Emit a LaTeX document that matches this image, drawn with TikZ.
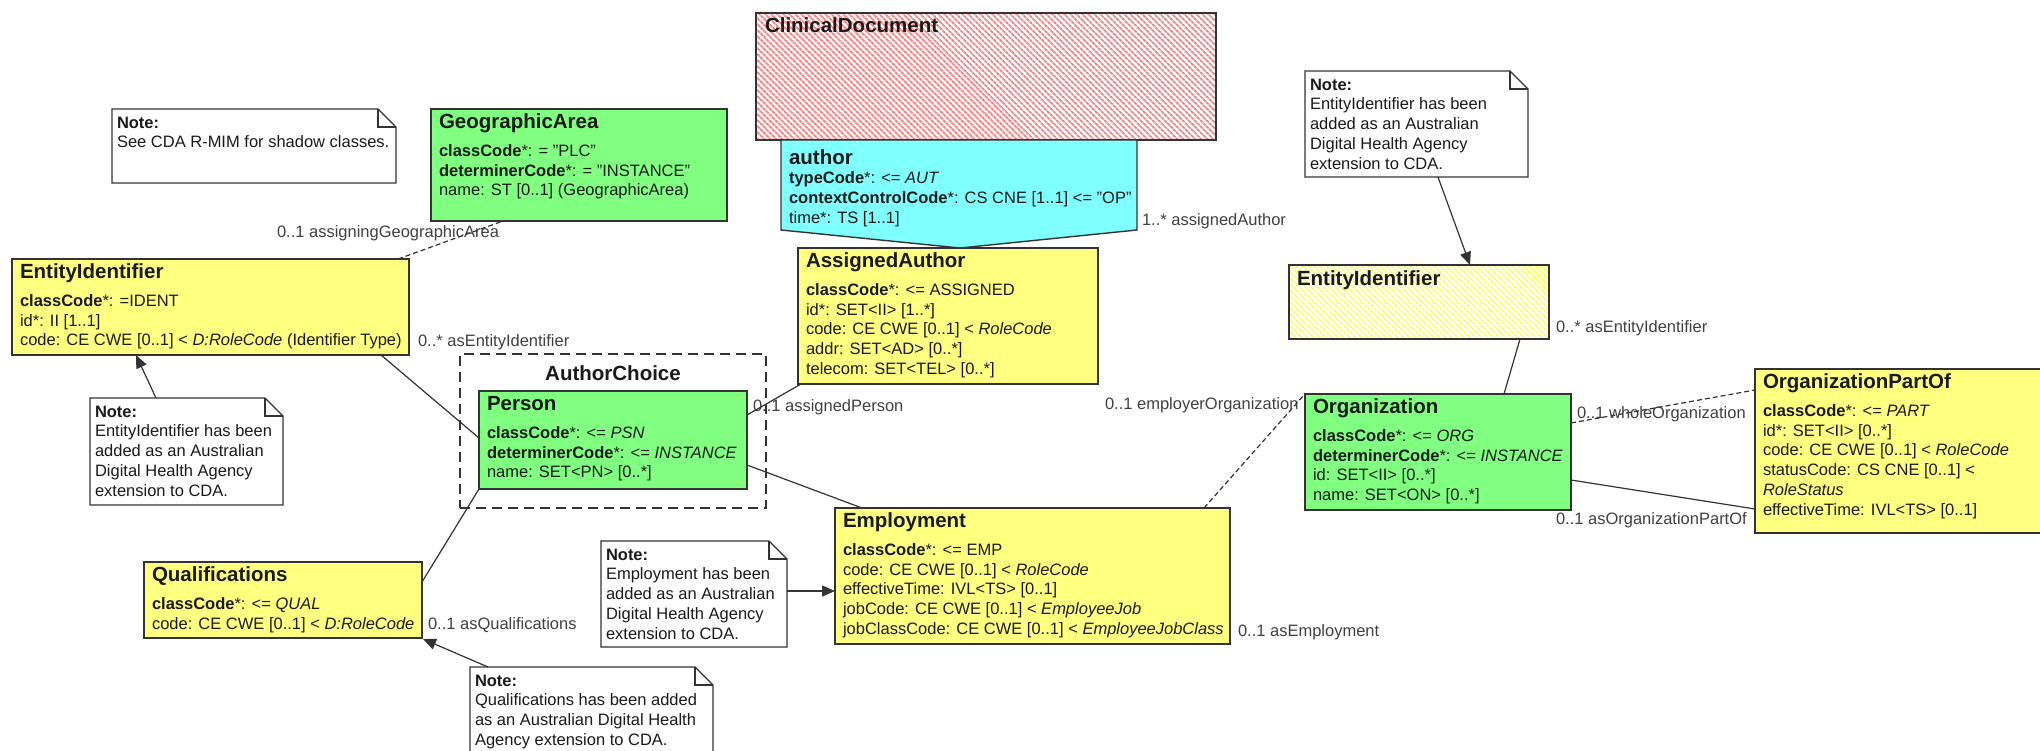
\documentclass[tikz,border=0pt]{standalone}
\usepackage{fontspec}
\setmainfont{Liberation Sans}
\usetikzlibrary{calc,arrows.meta,patterns.meta}
\definecolor{clsgreen}{HTML}{80FF80}
\definecolor{clsyellow}{HTML}{FFFF80}
\definecolor{clscyan}{HTML}{80FFFF}
\definecolor{hatchred}{HTML}{FF8080}
\definecolor{hatchyellow}{HTML}{FFFF50}
\definecolor{edge}{HTML}{333333}
\definecolor{ink}{HTML}{1A1A1A}
\definecolor{lbl}{HTML}{404040}
\tikzset{
 every node/.style={inner sep=0pt, outer sep=0pt},
 clsbox/.style={draw=edge, line width=1.4pt, anchor=north west, rectangle},
 txt/.style={anchor=base west, font=\fontsize{16.5}{19.6}\selectfont, text=ink},
 ttl/.style={anchor=base west, font=\fontsize{20.5}{24}\selectfont\bfseries, text=ink},
 lab/.style={anchor=base west, font=\fontsize{16.5}{19.6}\selectfont, text=lbl},
 conn/.style={draw=edge, line width=1.2pt},
 dconn/.style={conn, dash pattern=on 5pt off 3pt},
 arr/.style={conn, -{Triangle[length=13pt,width=11pt]}},
 noteline/.style={draw=edge, line width=1.3pt},
 area/.style={anchor=north west, rectangle},
}
\newcommand\txtlines[5]{\foreach \t [count=\i from 0] in {#5}{\node[txt] (#1\i) at (#2,{#3+#4*\i}) {\t};}}
\newcommand\classbox[8]{%
  \node[clsbox, fill=#6, minimum width=#4pt, minimum height=#5pt] (#1) at (#2,#3) {};
  \node[ttl] (#1T) at (#2+8,#3+19) {#7};
  \txtlines{#1L}{#2+8}{#3+47.5}{19.7}{#8}}
\newcommand\notebox[6]{%
  \node[area, minimum width=#4pt, minimum height=#5pt] (#1) at (#2,#3) {};
  \draw[noteline, fill=white] (#1.north west) -- ($(#1.north east)+(-18,0)$) -- ($(#1.north east)+(0,18)$) -- (#1.south east) -- (#1.south west) -- cycle;
  \draw[noteline] ($(#1.north east)+(-18,0)$) -- ($(#1.north east)+(-18,18)$) -- ($(#1.north east)+(0,18)$);
  \txtlines{#1L}{#2+5}{#3+19}{19.8}{#6}}
\begin{document}
\begin{tikzpicture}[x=1pt,y=-1pt]
\useasboundingbox (0,0) rectangle (2040,750);
\clip (0,0) rectangle (2040,750);
\fill[white] (0,0) rectangle (2040,750);

% ---- ClinicalDocument and author
\node[clsbox, pattern={Lines[angle=-45,distance=4pt,line width=1.9pt]}, pattern color=hatchred, minimum width=460pt, minimum height=127pt] (cd) at (756,13) {};
\node[ttl] (cdT) at (765,32) {ClinicalDocument};
\node[area, minimum width=356pt, minimum height=90pt] (author) at (781,140) {};
\draw[draw=edge, line width=1.4pt, fill=clscyan] (author.north west) -- (author.north east) -- (author.south east) -- ($(author.south)+(1,18)$) -- (author.south west) -- cycle;
\node[ttl] (authorT) at (789,164) {author};
\txtlines{authorL}{789}{183}{20}{{\textbf{typeCode}*: <= \textit{AUT}},{\textbf{contextControlCode}*: CS CNE [1..1] <= "OP"},{time*: TS [1..1]}}

% ---- AuthorChoice
\node[area, draw=edge, line width=1.5pt, dash pattern=on 10pt off 6pt, minimum width=306pt, minimum height=154pt] (ac) at (460,354) {};
\node[anchor=base, font=\fontsize{20.5}{24}\selectfont\bfseries, text=ink] (acT) at (613,380) {AuthorChoice};

% ---- classes
\classbox{geo}{431}{109}{296}{112}{clsgreen}{GeographicArea}{{\textbf{classCode}*: = "PLC"},{\textbf{determinerCode}*: = "INSTANCE"},{name: ST [0..1] (GeographicArea)}}
\classbox{eil}{12}{259}{397}{96}{clsyellow}{EntityIdentifier}{{\textbf{classCode}*: =IDENT},{id*: II [1..1]},{code: CE CWE [0..1] < \textit{D:RoleCode} (Identifier Type)}}
\classbox{aa}{798}{248}{300}{136}{clsyellow}{AssignedAuthor}{{\textbf{classCode}*: <= ASSIGNED},{id*: SET<II> [1..*]},{code: CE CWE [0..1] < \textit{RoleCode}},{addr: SET<AD> [0..*]},{telecom: SET<TEL> [0..*]}}
\classbox{person}{479}{391}{268}{98}{clsgreen}{Person}{{\textbf{classCode}*: <= \textit{PSN}},{\textbf{determinerCode}*: <= \textit{INSTANCE}},{name: SET<PN> [0..*]}}
\classbox{qual}{144}{562}{278}{76}{clsyellow}{Qualifications}{{\textbf{classCode}*: <= \textit{QUAL}},{code: CE CWE [0..1] < \textit{D:RoleCode}}}
\classbox{emp}{835}{508}{395}{136}{clsyellow}{Employment}{{\textbf{classCode}*: <= EMP},{code: CE CWE [0..1] < \textit{RoleCode}},{effectiveTime: IVL<TS> [0..1]},{jobCode: CE CWE [0..1] < \textit{EmployeeJob}},{jobClassCode: CE CWE [0..1] < \textit{EmployeeJobClass}}}
\classbox{org}{1305}{394}{266}{116}{clsgreen}{Organization}{{\textbf{classCode}*: <= \textit{ORG}},{\textbf{determinerCode}*: <= \textit{INSTANCE}},{id: SET<II> [0..*]},{name: SET<ON> [0..*]}}
\classbox{opo}{1755}{369}{320}{164}{clsyellow}{OrganizationPartOf}{{\textbf{classCode}*: <= \textit{PART}},{id*: SET<II> [0..*]},{code: CE CWE [0..1] < \textit{RoleCode}},{statusCode: CS CNE [0..1] <},{\textit{RoleStatus}},{effectiveTime: IVL<TS> [0..1]}}
\node[clsbox, pattern={Lines[angle=-45,distance=4pt,line width=1.9pt]}, pattern color=hatchyellow, minimum width=260pt, minimum height=74pt] (eir) at (1289,265) {};
\node[ttl] (eirT) at (1297,285) {EntityIdentifier};

% ---- notes
\notebox{noteA}{112}{109}{284}{74}{{\textbf{Note:}},{See CDA R-MIM for shadow classes.}}
\notebox{noteL}{90}{398}{193}{107}{{\textbf{Note:}},{EntityIdentifier has been},{added as an Australian},{Digital Health Agency},{extension to CDA.}}
\notebox{noteR}{1305}{71}{223}{106}{{\textbf{Note:}},{EntityIdentifier has been},{added as an Australian},{Digital Health Agency},{extension to CDA.}}
\notebox{noteE}{601}{541}{186}{106}{{\textbf{Note:}},{Employment has been},{added as an Australian},{Digital Health Agency},{extension to CDA.}}
\notebox{noteQ}{470}{667}{243}{100}{{\textbf{Note:}},{Qualifications has been added},{as an Australian Digital Health},{Agency extension to CDA.}}

% ---- connectors
\draw[dconn] ($(eil.north west)+(386,0)$) -- ($(geo.south west)+(72,0)$);
\draw[conn] ($(eil.south west)+(369,0)$) -- ($(person.north west)+(0,47)$);
\draw[arr] ($(noteL.north west)+(66,0)$) -- ($(eil.south west)+(124,0)$);
\draw[conn] ($(aa.south west)+(3,0)$) -- ($(person.north east)+(0,24)$);
\draw[conn] ($(person.north east)+(0,74)$) -- ($(emp.north west)+(27,0)$);
\draw[conn] (person.south west) -- ($(qual.north east)+(0,20)$);
\draw[arr] ($(noteQ.north west)+(18,0)$) -- ($(qual.south east)+(1,1)$);
\draw[arr] ($(noteE.north east)+(0,50)$) -- ($(emp.north west)+(0,83)$);
\draw[dconn] ($(emp.north west)+(369,0)$) -- ($(org.north west)+(-1,1)$);
\draw[arr] ($(noteR.south west)+(133,0)$) -- ($(eir.north west)+(181,0)$);
\draw[conn] ($(eir.south west)+(231,0)$) -- ($(org.north west)+(199,0)$);
\draw[dconn] ($(org.north east)+(0,29)$) -- ($(opo.north west)+(0,21)$);
\draw[conn] ($(org.north east)+(0,86)$) -- ($(opo.north west)+(0,140)$);

% ---- role labels
\node[lab] (l1) at (277,237) {0..1 assigningGeographicArea};
\node[lab] (l2) at (418,346) {0..* asEntityIdentifier};
\node[lab] (l3) at (753,411) {0..1 assignedPerson};
\node[lab] (l4) at (1142,225) {1..* assignedAuthor};
\node[lab] (l5) at (1105,409) {0..1 employerOrganization};
\node[lab] (l6) at (1556,332) {0..* asEntityIdentifier};
\node[lab] (l7) at (1577,418) {0..1 wholeOrganization};
\node[lab] (l8) at (1556,524) {0..1 asOrganizationPartOf};
\node[lab] (l9) at (1238,636) {0..1 asEmployment};
\node[lab] (l10) at (428,629) {0..1 asQualifications};
\end{tikzpicture}
\end{document}
